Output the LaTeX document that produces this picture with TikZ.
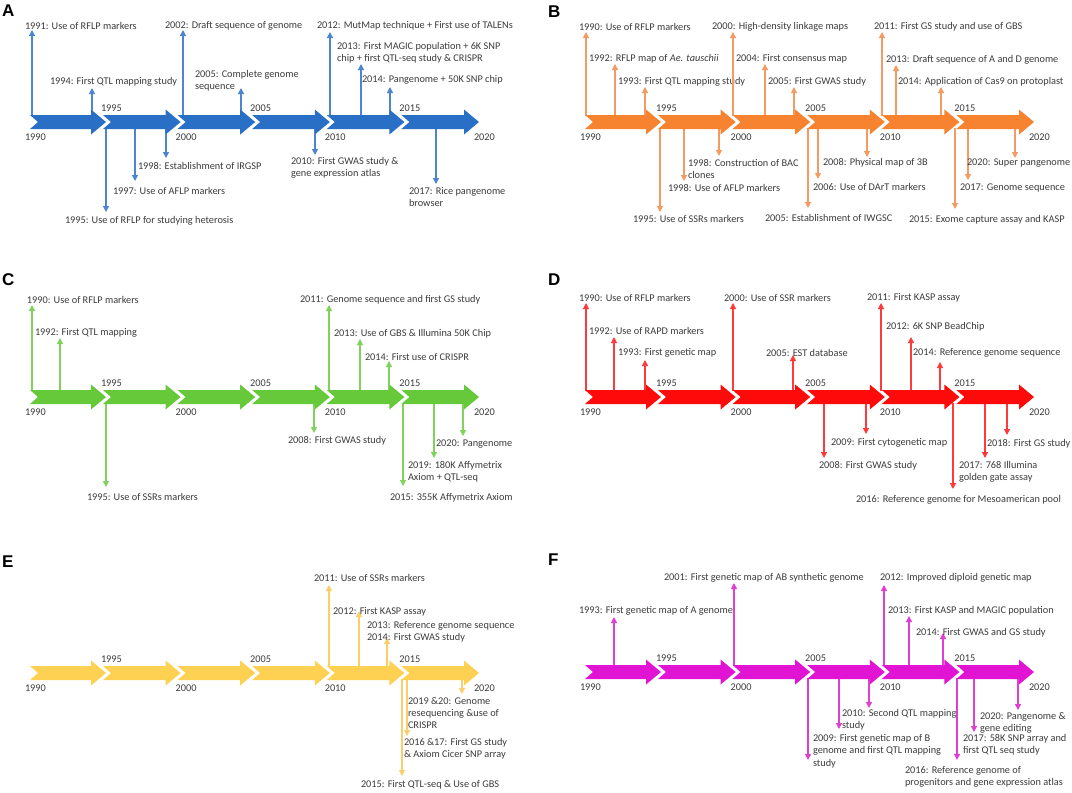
\documentclass[tikz,border=0pt]{standalone}
\usepackage{fontspec}
\setmainfont{Carlito}
\newfontfamily\pfont{Liberation Sans}
\usetikzlibrary{arrows.meta}
\definecolor{txt}{HTML}{3C3C3C}
\definecolor{Atl}{HTML}{2A6FC6}\definecolor{Aev}{HTML}{4C86CE}
\definecolor{Btl}{HTML}{F7822F}\definecolor{Bev}{HTML}{F49A62}
\definecolor{Ctl}{HTML}{66C93A}\definecolor{Cev}{HTML}{80D25C}
\definecolor{Dtl}{HTML}{FF0A0A}\definecolor{Dev}{HTML}{FF3A3A}
\definecolor{Etl}{HTML}{FFD152}\definecolor{Eev}{HTML}{F8CF6A}
\definecolor{Ftl}{HTML}{E014D2}\definecolor{Fev}{HTML}{E040D2}
\newcommand\lbfont{\fontsize{10.3}{12.3}\selectfont}
\newcommand\letfont{\pfont\bfseries\fontsize{17}{17}\selectfont}
\newcommand\arr[4]{\coordinate (#1s) at (#2,#3); \coordinate (#1e) at (#2,#4); \draw[ev] (#1s) -- (#1e);}
\newcommand\lab[4]{\node[lab] (#1) at (#2,#3) {#4};}
\newcommand\tline[3]{%
  \node[yr] (#1y1990) at (#2-5,#3+15) {1990};
  \foreach \i/\yr in {0/1995,1/2000,2/2005,3/2010,4/2015,5/2020}{
    \pgfmathsetmacro\segT{#2+76+74.6*\i}
    \pgfmathsetmacro\segL{ifthenelse(\i==0,#2,\segT-77.6)}
    \pgfmathsetmacro\segY{ifthenelse(mod(\i,2)==0,#3-14,#3+15)}
    \fill[tlc] (\segL,#3-7) -- (\segT-15,#3-7) -- (\segT-15,#3-12.5) -- (\segT,#3) -- (\segT-15,#3+12.5) -- (\segT-15,#3+7) -- (\segL,#3+7) -- (\segL+8,#3) -- cycle;
    \node[yr] (#1y\yr) at (\segT-5,\segY) {\yr};
  }}
\begin{document}
\begin{tikzpicture}[x=1pt,y=-1pt,
  every node/.style={inner sep=0pt,outer sep=0pt},
  lab/.style={font=\lbfont,text=txt,anchor=west,align=left},
  yr/.style={font=\lbfont,text=txt,anchor=west},
  plet/.style={font=\letfont,anchor=west,text=black},
  ev/.style={draw=evc,line width=1.2pt,-{Triangle[length=6pt,width=6pt]}}]
\useasboundingbox (0,0) rectangle (1072,793);
\fill[white] (0,0) rectangle (1072,793);

% ---------------- A ----------------
\begin{scope}
\colorlet{evc}{Aev}\colorlet{tlc}{Atl}
\node[plet] (LA) at (2,11) {A};
\arr{a91}{32}{116}{30}\lab{a91}{25}{26}{1991: Use of RFLP markers}
\arr{a94}{92}{116}{88}\lab{a94}{50}{82}{1994: First QTL mapping study}
\arr{a02}{183}{116}{30}\lab{a02}{165}{26}{2002: Draft sequence of genome}
\arr{a05}{241}{116}{88}\lab{a05}{195}{81}{2005: Complete genome\\sequence}
\arr{a12}{330}{116}{32}\lab{a12}{317}{26}{2012: MutMap technique + First use of TALENs}
\arr{a13}{361}{116}{64}\lab{a13}{337}{53}{2013: First MAGIC population + 6K SNP\\chip + first QTL-seq study \& CRISPR}
\arr{a14}{390}{116}{87}\lab{a14}{362}{80}{2014: Pangenome + 50K SNP chip}
\arr{a95}{106}{128}{212}\lab{a95}{65}{221}{1995: Use of RFLP for studying heterosis}
\arr{a97}{135}{128}{181}\lab{a97}{113}{191}{1997: Use of AFLP markers}
\arr{a98}{166}{128}{158}\lab{a98}{138}{166}{1998: Establishment of IRGSP}
\arr{a10}{315}{128}{155}\lab{a10}{291}{168}{2010: First GWAS study \&\\gene expression atlas}
\arr{a17}{436}{128}{184}\lab{a17}{409}{197}{2017: Rice pangenome\\browser}
\tline{A}{30}{122}
\end{scope}

% ---------------- B ----------------
\begin{scope}
\colorlet{evc}{Bev}\colorlet{tlc}{Btl}
\node[plet] (LB) at (548,12) {B};
\arr{b90}{586}{116}{32}\lab{b90}{579}{27}{1990: Use of RFLP markers}
\arr{b92}{615}{116}{64}\lab{b92}{589}{59}{1992: RFLP map of \textit{Ae. tauschii}}
\arr{b93}{645}{116}{87}\lab{b93}{618}{82}{1993: First QTL mapping study}
\arr{b00}{733}{116}{32}\lab{b00}{712}{27}{2000: High-density linkage maps}
\arr{b04}{765}{116}{64}\lab{b04}{736}{59}{2004: First consensus map}
\arr{b05}{794}{116}{87}\lab{b05}{768}{82}{2005: First GWAS study}
\arr{b11}{882}{116}{32}\lab{b11}{874}{27}{2011: First GS study and use of GBS}
\arr{b13}{896}{116}{65}\lab{b13}{886}{60}{2013: Draft sequence of A and D genome}
\arr{b14}{941}{116}{87}\lab{b14}{898}{82}{2014: Application of Cas9 on protoplast}
\arr{b95}{660}{128}{212}\lab{b95}{633}{219}{1995: Use of SSRs markers}
\arr{b98a}{684}{128}{181}\lab{b98a}{668}{188}{1998: Use of AFLP markers}
\arr{b98b}{719}{128}{156}\lab{b98b}{688}{169}{1998: Construction of BAC\\clones}
\arr{b05d}{808}{128}{208}\lab{b05d}{765}{218}{2005: Establishment of IWGSC}
\arr{b06}{818}{128}{179}\lab{b06}{813}{187}{2006: Use of DArT markers}
\arr{b08}{867}{128}{157}\lab{b08}{823}{163}{2008: Physical map of 3B}
\arr{b15}{955}{128}{209}\lab{b15}{909}{220}{2015: Exome capture assay and KASP}
\arr{b17}{968}{128}{180}\lab{b17}{960}{188}{2017: Genome sequence}
\arr{b20}{1015}{128}{158}\lab{b20}{967}{163}{2020: Super pangenome}
\tline{B}{585}{122}
\end{scope}

% ---------------- C ----------------
\begin{scope}
\colorlet{evc}{Cev}\colorlet{tlc}{Ctl}
\node[plet] (LC) at (2,280) {C};
\arr{c90}{32}{391}{305}\lab{c90}{27}{300}{1990: Use of RFLP markers}
\arr{c92}{60}{391}{338}\lab{c92}{35}{333}{1992: First QTL mapping}
\arr{c11}{329}{391}{305}\lab{c11}{300}{300}{2011: Genome sequence and first GS study}
\arr{c13}{360}{391}{339}\lab{c13}{334}{334}{2013: Use of GBS \& Illumina 50K Chip}
\arr{c14}{389}{391}{361}\lab{c14}{365}{357}{2014: First use of CRISPR}
\arr{c95}{106}{403}{487}\lab{c95}{87}{497}{1995: Use of SSRs markers}
\arr{c08}{314}{403}{433}\lab{c08}{288}{441}{2008: First GWAS study}
\arr{c15}{403}{403}{486}\lab{c15}{390}{498}{2015: 355K Affymetrix Axiom}
\arr{c19}{434}{403}{458}\lab{c19}{408}{472}{2019: 180K Affymetrix\\Axiom + QTL-seq}
\arr{c20}{463}{403}{436}\lab{c20}{436}{444}{2020: Pangenome}
\tline{C}{30}{397}
\end{scope}

% ---------------- D ----------------
\begin{scope}
\colorlet{evc}{Dev}\colorlet{tlc}{Dtl}
\node[plet] (LD) at (548,280) {D};
\arr{d90}{586}{391}{303}\lab{d90}{579}{298}{1990: Use of RFLP markers}
\arr{d92}{614}{391}{337}\lab{d92}{589}{331}{1992: Use of RAPD markers}
\arr{d93}{645}{391}{360}\lab{d93}{618}{353}{1993: First genetic map}
\arr{d00}{733}{391}{303}\lab{d00}{724}{298}{2000: Use of SSR markers}
\arr{d05}{793}{391}{355}\lab{d05}{766}{353}{2005: EST database}
\arr{d11}{881}{391}{303}\lab{d11}{867}{298}{2011: First KASP assay}
\arr{d12}{911}{391}{337}\lab{d12}{886}{327}{2012: 6K SNP BeadChip}
\arr{d14}{940}{391}{362}\lab{d14}{913}{353}{2014: Reference genome sequence}
\arr{d08}{824}{403}{458}\lab{d08}{819}{466}{2008: First GWAS study}
\arr{d09}{866}{403}{434}\lab{d09}{831}{443}{2009: First cytogenetic map}
\arr{d16}{953}{403}{489}\lab{d16}{856}{500}{2016: Reference genome for Mesoamerican pool}
\arr{d17}{985}{403}{458}\lab{d17}{959}{472}{2017: 768 Illumina\\golden gate assay}
\arr{d18}{1007}{403}{435}\lab{d18}{987}{444}{2018: First GS study}
\tline{D}{585}{397}
\end{scope}

% ---------------- E ----------------
\begin{scope}
\colorlet{evc}{Eev}\colorlet{tlc}{Etl}
\node[plet] (LE) at (2,562) {E};
\arr{e11}{329}{667}{585}\lab{e11}{314}{578}{2011: Use of SSRs markers}
\arr{e12}{359}{667}{611}\lab{e12}{333}{612}{2012: First KASP assay}
\lab{e13}{367}{626}{2013: Reference genome sequence}
\arr{e14}{387}{667}{638}\lab{e14}{367}{638}{2014: First GWAS study}
\arr{e15}{402}{679}{776}\lab{e15}{361}{785}{2015: First QTL-seq \& Use of GBS}
\arr{e16}{407}{679}{736}\lab{e16}{404}{749}{2016 \&17: First GS study\\\& Axiom Cicer SNP array}
\arr{e19}{462}{679}{694}\lab{e19}{408}{713}{2019 \&20: Genome\\resequencing \&use of\\CRISPR}
\tline{E}{30}{673}
\end{scope}

% ---------------- F ----------------
\begin{scope}
\colorlet{evc}{Fev}\colorlet{tlc}{Ftl}
\node[plet] (LF) at (548,560) {F};
\arr{f93}{614}{666}{617}\lab{f93}{579}{611}{1993: First genetic map of A genome}
\arr{f01}{734}{666}{583}\lab{f01}{664}{578}{2001: First genetic map of AB synthetic genome}
\arr{f12}{884}{666}{585}\lab{f12}{880}{578}{2012: Improved diploid genetic map}
\arr{f13}{909}{666}{616}\lab{f13}{888}{611}{2013: First KASP and MAGIC population}
\arr{f14}{943}{666}{633}\lab{f14}{916}{633}{2014: First GWAS and GS study}
\arr{f05}{808}{678}{760}\lab{f05}{813}{751}{2009: First genetic map of B\\genome and first QTL mapping\\study}
\arr{f07}{839}{678}{729}
\arr{f09}{869}{678}{708}\lab{f09}{842}{720}{2010: Second QTL mapping\\study}
\arr{f15}{957}{678}{760}\lab{f15}{905}{777}{2016: Reference genome of\\progenitors and gene expression atlas}
\arr{f16}{974}{678}{732}\lab{f16}{963}{745}{2017: 58K SNP array and\\first QTL seq study}
\arr{f19}{1018}{678}{710}\lab{f19}{980}{723}{2020: Pangenome \&\\gene editing}
\tline{F}{585}{672}
\end{scope}
\end{tikzpicture}
\end{document}
